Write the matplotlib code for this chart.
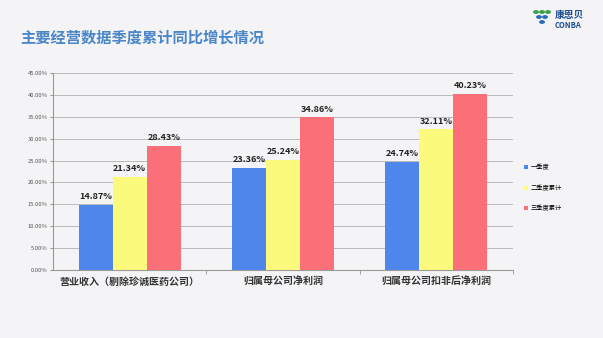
import numpy as np
import matplotlib.pyplot as plt

plt.rcParams['font.family'] = ['Noto Sans CJK SC', 'DejaVu Sans']

categories = ['营业收入（剔除珍诚医药公司）', '归属母公司净利润', '归属母公司扣非后净利润']
series_names = ['一季度', '二季度累计', '三季度累计']
q1 = [14.87, 23.36, 24.74]
q2 = [21.34, 25.24, 32.11]
q3 = [28.43, 34.86, 40.23]
colors = ['#4f86ec', '#fbfa7c', '#fb6f78']
yticks = np.arange(0, 45.1, 5)

fig = plt.figure(figsize=(6.03, 3.38), dpi=100, facecolor='#f4f4f6')
ax = fig.add_axes([53/603, 1 - 270/338, (513-53)/603, (270-73)/338])
ax.set_facecolor('none')

x = np.arange(len(categories))
w = 0.222
for i, (vals, name, c) in enumerate(zip([q1, q2, q3], series_names, colors)):
    pos = x + (i - 1) * w
    bars = ax.bar(pos, vals, width=w, color=c, label=name, zorder=3)
    for b, v in zip(bars, vals):
        ax.text(b.get_x() + b.get_width() / 2, v + 0.8, f'{v:.2f}%',
                ha='center', va='bottom', fontsize=6.5, fontweight='bold',
                color='#222222', zorder=4)

ax.set_xlim(-0.5, 2.5)
ax.set_ylim(0, 45)
ax.set_yticks(yticks)
ax.set_yticklabels([f'{t:.2f}%' for t in yticks], fontsize=4.2, color='#555555')
ax.set_xticks(x)
ax.set_xticklabels(categories, fontsize=7.2, fontweight='bold', color='#333333')
ax.set_xticks([0.5, 1.5, 2.5], minor=True)
ax.tick_params(axis='x', which='major', length=0, pad=5)
ax.tick_params(axis='x', which='minor', length=3, color='#999999')
ax.tick_params(axis='y', length=2, color='#999999', pad=2)
ax.grid(axis='y', color='#bbbbbb', linewidth=0.7, zorder=0)
for s in ['top', 'right']:
    ax.spines[s].set_visible(False)
ax.spines['left'].set_color('#999999')
ax.spines['bottom'].set_color('#999999')

ax.legend(loc='center left', bbox_to_anchor=(521/603, 1 - 188/338),
          bbox_transform=fig.transFigure, frameon=False, borderpad=0,
          fontsize=4.5, handlelength=0.6, handleheight=0.6, labelspacing=2.0,
          handletextpad=0.5)

fig.text(20/603, 1 - 38/338, '主要经营数据季度累计同比增长情况', fontsize=11,
         fontweight='bold', color='#4a86c8', va='center', ha='left')

# logo
for dx, dy, c in [(0, 0, '#3aa04a'), (6, 0, '#3aa04a'), (12, 0, '#3aa04a'),
                  (3, 5, '#2a6fb8'), (9, 5, '#2a6fb8'), (6, 10, '#2a6fb8')]:
    fig.patches.append(plt.Circle(((536 + dx) / 603, 1 - (12 + dy) / 338), 2.2 / 603,
                                  transform=fig.transFigure, color=c,
                                  figure=fig))
fig.text(555/603, 1 - 15/338, '康恩贝', fontsize=7, fontweight='bold',
         color='#1f4f8f', va='center', ha='left')
fig.text(555/603, 1 - 26/338, 'CONBA', fontsize=5.5, fontweight='bold',
         color='#1f4f8f', va='center', ha='left')

fig.savefig('out.png', dpi=100, facecolor=fig.get_facecolor())
